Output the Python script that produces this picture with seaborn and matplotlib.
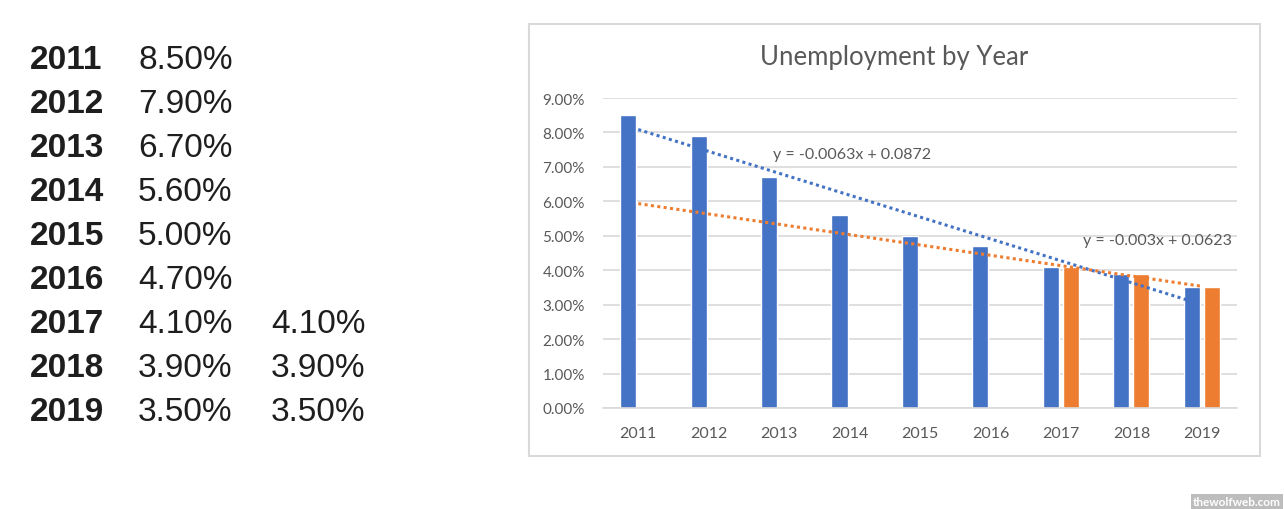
import matplotlib
matplotlib.use("Agg")
import matplotlib.pyplot as plt
from matplotlib.patches import Rectangle
import seaborn as sns
import numpy as np
import pandas as pd

years = ["2011", "2012", "2013", "2014", "2015", "2016", "2017", "2018", "2019"]
rate_all = [0.085, 0.079, 0.067, 0.056, 0.050, 0.047, 0.041, 0.039, 0.035]
recent_years = ["2017", "2018", "2019"]
rate_recent = [0.041, 0.039, 0.035]
series_names = ["All years", "2017-2019"]
trend_labels = ["y = -0.0063x + 0.0872", "y = -0.003x + 0.0623"]
y_ticks = [0.0, 0.01, 0.02, 0.03, 0.04, 0.05, 0.06, 0.07, 0.08, 0.09]

BLUE = "#4472C4"
ORANGE = "#ED7D31"
GRID = "#D9D9D9"
TEXT = "#595959"

df = pd.concat([
    pd.DataFrame({"year": years, "series": series_names[0], "rate": rate_all}),
    pd.DataFrame({"year": recent_years, "series": series_names[1], "rate": rate_recent}),
], ignore_index=True)

sns.set_style("white")
plt.rcParams["font.family"] = ["Lato", "DejaVu Sans"]

W, H = 1284, 510
fig = plt.figure(figsize=(W / 100, H / 100), dpi=100)

# left side: the raw numbers as a text table
for i, yr in enumerate(years):
    base = 1 - (69 + 44 * i) / H
    fig.text(30 / W, base, yr, fontsize=24, fontweight="bold", color="#1e1e1e",
             family="Liberation Sans", ha="left", va="baseline")
    fig.text(138 / W, base, f"{rate_all[i] * 100:.2f}%", fontsize=24, color="#1e1e1e",
             family="Liberation Sans", ha="left", va="baseline")
    if yr in recent_years:
        v = rate_recent[recent_years.index(yr)]
        fig.text(271 / W, base, f"{v * 100:.2f}%", fontsize=24, color="#1e1e1e",
                 family="Liberation Sans", ha="left", va="baseline")

# chart box border
fig.patches.append(Rectangle((529 / W, 1 - 457 / H), (1260 - 529) / W, (457 - 25) / H,
                             transform=fig.transFigure, fill=False, edgecolor=GRID, lw=1.5))

ax = fig.add_axes([603 / W, 1 - 409 / H, 634 / W, 310 / H])
sns.barplot(data=df, x="year", y="rate", hue="series", order=years, hue_order=series_names,
            palette={series_names[0]: BLUE, series_names[1]: ORANGE}, saturation=1,
            width=0.57, gap=0.2, legend=False, ax=ax)

# linear trendlines, Excel style (x = 1..n over categories)
dots = (0, (1, 1.1))
xs = np.arange(1, len(years) + 1)
b1 = np.polyfit(xs, rate_all, 1)
ax.plot(xs - 1, np.polyval(b1, xs), linestyle=dots, color=BLUE, lw=2.2,
        dash_capstyle="butt")
xr = np.array([years.index(y) + 1 for y in recent_years])
b2 = np.polyfit(xr, rate_recent, 1)
ax.plot(xs - 1, np.polyval(b2, xs), linestyle=dots, color=ORANGE, lw=2.2,
        dash_capstyle="butt")

ax.text(1.91, 0.0738, trend_labels[0], fontsize=11.5, color=TEXT, va="center", ha="left")
ax.text(6.32, 0.0488, trend_labels[1], fontsize=11.5, color=TEXT, va="center", ha="left")

ax.set_xlim(-0.5, len(years) - 0.5)
ax.set_ylim(0, 0.09)
ax.set_yticks(y_ticks)
ax.set_yticklabels([f"{t * 100:.2f}%" for t in y_ticks])
ax.yaxis.grid(True, color=GRID, lw=1.2)
ax.set_axisbelow(True)
for s in ["top", "right", "left"]:
    ax.spines[s].set_visible(False)
ax.spines["bottom"].set_color(GRID)
ax.spines["bottom"].set_linewidth(1.2)
ax.tick_params(axis="y", length=0, pad=13, labelsize=11, labelcolor=TEXT)
ax.tick_params(axis="x", length=0, pad=13, labelsize=11.5, labelcolor=TEXT)
ax.set_xlabel("")
ax.set_ylabel("")

fig.text(894 / W, 1 - 58 / H, "Unemployment by Year", fontsize=18.5, color=TEXT,
         ha="center", va="center")

# watermark
fig.text(1281 / W, 1 - 503 / H, "thewolfweb.com", fontsize=8.5, fontweight="bold",
         color="white", ha="right", va="center",
         bbox=dict(facecolor="#bdbdbd", edgecolor="none", pad=1.5))

fig.savefig("out.png", dpi=100, facecolor="white")
